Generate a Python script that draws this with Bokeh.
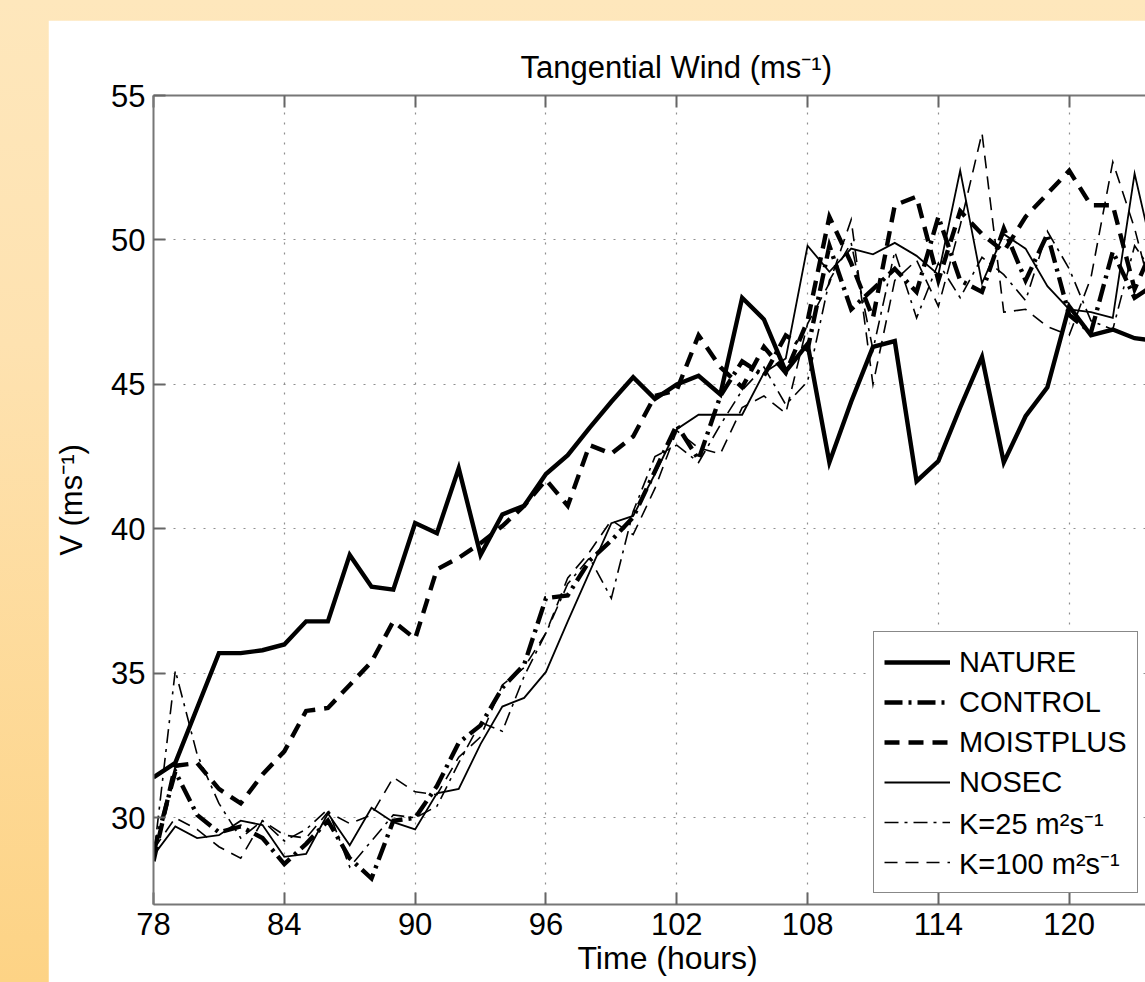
from bokeh.plotting import figure
from bokeh.models import Range1d, LinearAxis, FixedTicker, Legend, LegendItem, Grid, Title
from bokeh.embed import file_html
from bokeh.resources import INLINE

# ---------------- data ----------------
hours = list(range(78, 125))

nature = [31.4, 31.9, 33.8, 35.7, 35.7, 35.8, 36.0, 36.8, 36.8, 39.1,
          38.0, 37.9, 40.2, 39.85, 42.1, 39.1, 40.5, 40.8, 41.9, 42.55,
          43.5, 44.4, 45.25, 44.5, 45.0, 45.3, 44.65, 48.0, 47.25, 45.45,
          46.4, 42.3, 44.4, 46.3, 46.5, 41.65, 42.35, 44.2, 45.95, 42.3,
          43.9, 44.9, 47.7, 46.7, 46.9, 46.6, 46.5]

control = [28.8, 31.6, 30.1, 29.5, 29.7, 29.3, 28.4, 29.1, 29.9, 28.6,
           27.9, 29.9, 30.0, 31.1, 32.6, 33.2, 34.5, 35.3, 37.6, 37.7,
           38.9, 39.6, 40.4, 42.0, 43.6, 42.4, 44.6, 45.8, 45.3, 46.7,
           46.2, 49.8, 47.6, 48.3, 49.0, 48.2, 50.8, 48.6, 48.2, 50.4,
           48.6, 50.2, 47.4, 46.8, 49.6, 48.0, 48.5]

moistplus = [28.5, 31.8, 31.9, 31.0, 30.5, 31.5, 32.3, 33.7, 33.8, 34.6,
             35.4, 36.8, 36.2, 38.6, 39.0, 39.5, 40.1, 40.8, 41.7, 40.8,
             42.9, 42.6, 43.2, 44.6, 44.8, 46.7, 45.6, 44.9, 46.3, 45.4,
             47.2, 50.8, 49.2, 47.3, 51.2, 51.5, 48.6, 51.0, 50.2, 49.6,
             50.8, 51.6, 52.4, 51.2, 51.2, 48.3, 50.0]

nosec = [28.7, 29.7, 29.3, 29.4, 29.9, 29.75, 28.65, 28.75, 30.15, 29.05,
         30.35, 29.85, 29.6, 30.85, 31.0, 32.55, 33.85, 34.15, 35.05, 36.8,
         38.5, 40.2, 40.45, 41.9, 43.45, 43.95, 43.95, 43.95, 45.4, 45.9,
         49.8, 48.9, 49.7, 49.5, 49.9, 49.45, 48.8, 52.4, 48.5, 50.2,
         49.7, 48.4, 47.6, 47.5, 47.3, 52.3, 49.0]

k25 = [28.6, 35.1, 32.2, 30.5, 29.3, 29.9, 29.2, 29.6, 30.3, 28.3,
       29.2, 30.1, 30.0, 30.4, 31.9, 33.3, 33.0, 34.9, 36.4, 38.1,
       39.0, 37.6, 40.6, 42.5, 42.9, 42.3, 43.6, 44.8, 45.6, 44.3,
       45.1, 48.6, 49.9, 46.2, 49.6, 47.3, 49.2, 48.0, 49.4, 48.8,
       47.9, 50.3, 49.0, 47.2, 46.9, 49.8, 48.7]

k100 = [28.9, 30.0, 29.6, 29.0, 28.6, 29.9, 29.4, 29.3, 30.2, 29.8,
        30.1, 31.4, 30.9, 30.8, 32.1, 32.8, 34.6, 35.2, 36.4, 38.3,
        39.2, 40.3, 39.8, 41.4, 43.4, 42.8, 42.6, 44.2, 44.6, 44.0,
        47.1, 48.5, 50.7, 45.0, 48.6, 49.3, 47.7, 50.5, 53.7, 47.5,
        47.6, 47.0, 46.7, 48.7, 52.7, 50.4, 47.5]

series_names = ["NATURE", "CONTROL", "MOISTPLUS", "NOSEC",
                "K=25 m\u00b2s\u207b\u00b9", "K=100 m\u00b2s\u207b\u00b9"]
series_values = [nature, control, moistplus, nosec, k25, k100]

x_ticks = [78, 84, 90, 96, 102, 108, 114, 120, 126]
y_ticks = [30, 35, 40, 45, 50, 55]

# ---------------- styles ----------------
styles = [
    dict(line_width=4.4, line_dash="solid"),
    dict(line_width=4.4, line_dash="18 6 3 6"),
    dict(line_width=4.4, line_dash="15 9"),
    dict(line_width=1.8, line_dash="solid"),
    dict(line_width=1.6, line_dash="14 6 3 6"),
    dict(line_width=1.6, line_dash="13 8"),
]

FONT = "Liberation Sans"

p = figure(width=1097, height=962, output_backend="svg", toolbar_location=None,
           x_range=Range1d(78, 123.5), y_range=Range1d(27, 55),
           x_axis_type=None, y_axis_type=None,
           min_border_left=105, min_border_right=0,
           min_border_top=75, min_border_bottom=78)
p.outline_line_color = None
p.background_fill_color = "white"
p.border_fill_color = "white"

p.title.text = "Tangential Wind (ms\u207b\u00b9)"
p.title.text_font = FONT
p.title.text_font_size = "31px"
p.title.text_font_style = "normal"
p.title.text_color = "black"
p.title.align = "left"
p.title.offset = 367
p.title.standoff = 22


def style_axis(ax, ticks, labels=True):
    ax.ticker = FixedTicker(ticks=ticks)
    ax.axis_line_color = "#777777"
    ax.axis_line_width = 2
    ax.major_tick_line_color = "#666666"
    ax.major_tick_line_width = 2
    ax.major_tick_in = 12
    ax.major_tick_out = 0
    ax.minor_tick_line_color = None
    ax.major_label_text_font = FONT
    ax.major_label_text_font_size = "31px"
    ax.major_label_text_color = "black" if labels else None
    ax.major_label_standoff = 8
    ax.axis_label_text_font = FONT
    ax.axis_label_text_font_size = "31px"
    ax.axis_label_text_font_style = "normal"
    ax.axis_label_text_color = "black"


xa = LinearAxis()
style_axis(xa, x_ticks)
p.add_layout(xa, "below")

xlabel = Title(text="Time (hours)", align="left", offset=424, standoff=0,
               text_font=FONT, text_font_size="32px", text_font_style="normal",
               text_color="black")
p.add_layout(xlabel, "below")

ya = LinearAxis(axis_label="V (ms\u207b\u00b9)")
style_axis(ya, y_ticks)
ya.axis_label_standoff = 19
p.add_layout(ya, "left")

ta = LinearAxis()
style_axis(ta, x_ticks, labels=False)
p.add_layout(ta, "above")

for dim, ticks in ((0, x_ticks), (1, y_ticks)):
    g = Grid(dimension=dim, ticker=FixedTicker(ticks=ticks),
             grid_line_color="#8f8f8f", grid_line_width=1.2,
             grid_line_dash="2 8")
    p.add_layout(g)

items = []
for name, vals, st in zip(series_names, series_values, styles):
    r = p.line(hours, vals, line_color="black", line_join="miter", **st)
    items.append(LegendItem(label=name, renderers=[r]))

legend = Legend(items=items, location=(720, 11),
                label_text_font=FONT, label_text_font_size="29px",
                label_text_color="black",
                glyph_width=66, glyph_height=40, label_height=40,
                label_standoff=9, spacing=0, padding=10, margin=0,
                border_line_color="#111111", border_line_width=1.5,
                background_fill_color="white", background_fill_alpha=1.0)
p.add_layout(legend)

html = file_html(p, INLINE, title="Tangential Wind")
css = ("<style>html,body{margin:0;padding:0;height:100%;overflow:hidden;"
       "box-sizing:border-box;}"
       "html{background:linear-gradient(to bottom,#fee7bc 0%,#fee2b0 35%,#fdd385 100%);}"
       "body{padding:20px 0 0 48px;background:transparent;}</style>")
html = html.replace("</head>", css + "</head>", 1)
open("out.html", "w").write(html)
